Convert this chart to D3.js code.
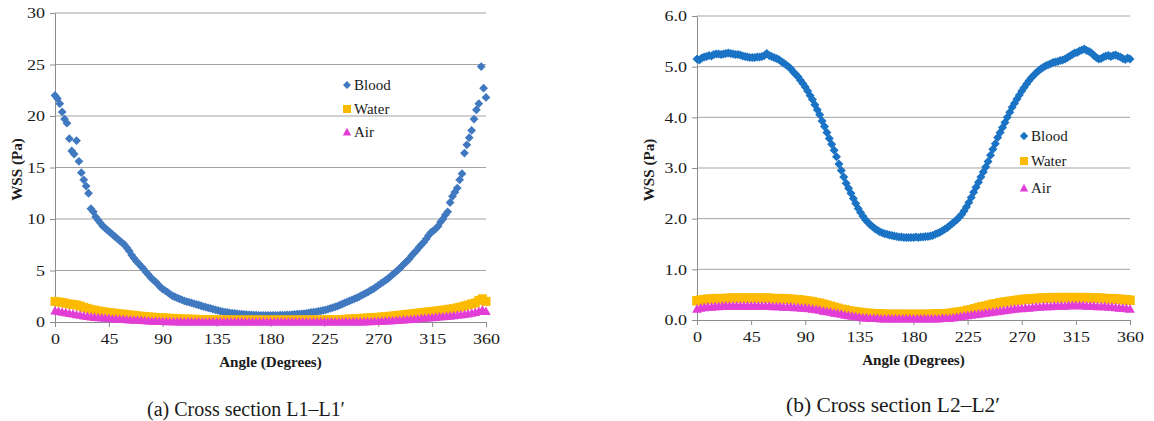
<!DOCTYPE html>
<html><head><meta charset="utf-8">
<script src="https://cdn.jsdelivr.net/npm/d3@7"></script>
<style>
body{margin:0;background:#fff}
svg{display:block}
svg text{font-family:"Liberation Serif","Times New Roman",serif !important;fill:#1a1a1a}
</style>
</head><body>
<svg id="c" width="1154" height="421"></svg>
<script>
// ---------- DATA ----------
// angle grid of the Water / Air series (every 3 degrees)
const angles3 = [0,3,6,9,12,15,18,21,24,27,30,33,36,39,42,45,48,51,54,57,60,63,66,69,72,75,78,81,84,87,90,93,96,99,102,105,108,111,114,117,120,123,126,129,132,135,138,141,144,147,150,153,156,159,162,165,168,171,174,177,180,183,186,189,192,195,198,201,204,207,210,213,216,219,222,225,228,231,234,237,240,243,246,249,252,255,258,261,264,267,270,273,276,279,282,285,288,291,294,297,300,303,306,309,312,315,318,321,324,327,330,333,336,339,342,345,348,351,354,357,360];
// angle grid of the Blood series (every 2 degrees)
const angles2 = [
  0,2,4,6,8,10,12,14,16,18,
  20,22,24,26,28,30,32,34,36,38,
  40,42,44,46,48,50,52,54,56,58,
  60,62,64,66,68,70,72,74,76,78,
  80,82,84,86,88,90,92,94,96,98,
  100,102,104,106,108,110,112,114,116,118,
  120,122,124,126,128,130,132,134,136,138,
  140,142,144,146,148,150,152,154,156,158,
  160,162,164,166,168,170,172,174,176,178,
  180,182,184,186,188,190,192,194,196,198,
  200,202,204,206,208,210,212,214,216,218,
  220,222,224,226,228,230,232,234,236,238,
  240,242,244,246,248,250,252,254,256,258,
  260,262,264,266,268,270,272,274,276,278,
  280,282,284,286,288,290,292,294,296,298,
  300,302,304,306,308,310,312,314,316,318,
  320,322,324,326,328,330,332,334,336,338,
  340,342,344,346,348,350,352,354,356,358,
  360];

const seriesNames = ["Blood","Water","Air"];
const xTicks = [0,45,90,135,180,225,270,315,360];
const yTicksA = [0,5,10,15,20,25,30];
const yTicksB = [0,1,2,3,4,5,6];
const captions = ["(a) Cross section L1\u2013L1\u2032","(b) Cross section L2\u2013L2\u2032"];
const xTitle = "Angle (Degrees)";
const yTitle = "WSS (Pa)";

// Chart (a) L1-L1'
const bloodA = [
  22.0,21.7,21.2,20.4,19.7,19.3,17.8,16.6,16.3,17.6,
  15.6,14.5,13.8,13.2,12.5,11.0,10.7,10.2,9.9,9.6,
  9.3,9.1,8.9,8.7,8.5,8.3,8.1,7.9,7.7,7.5,
  7.2,6.9,6.5,6.2,5.9,5.65,5.4,5.15,4.85,4.6,
  4.3,4.1,3.9,3.65,3.4,3.2,3.05,2.9,2.7,2.55,
  2.45,2.35,2.25,2.15,2.05,1.98,1.92,1.85,1.78,1.72,
  1.65,1.58,1.5,1.45,1.38,1.32,1.25,1.18,1.12,1.05,
  1.0,0.96,0.92,0.88,0.85,0.83,0.8,0.77,0.75,0.73,
  0.71,0.7,0.68,0.67,0.66,0.65,0.65,0.64,0.64,0.64,
  0.64,0.64,0.64,0.65,0.66,0.66,0.67,0.68,0.69,0.71,
  0.73,0.75,0.77,0.79,0.82,0.84,0.88,0.92,0.95,0.99,
  1.04,1.08,1.13,1.18,1.25,1.32,1.39,1.47,1.55,1.65,
  1.75,1.85,1.95,2.05,2.15,2.25,2.35,2.45,2.58,2.7,
  2.82,2.95,3.1,3.22,3.38,3.55,3.72,3.88,4.05,4.2,
  4.4,4.6,4.8,5.0,5.2,5.45,5.7,5.9,6.15,6.45,
  6.7,6.95,7.25,7.5,7.75,8.05,8.4,8.7,8.85,9.05,
  9.3,9.7,10.0,10.4,10.7,11.6,12.2,12.6,13.0,13.8,
  14.4,16.4,17.2,17.9,18.6,19.7,20.6,21.2,24.8,22.7,
  21.8];
const waterA = [2.0,1.95,1.9,1.82,1.75,1.7,1.65,1.55,1.42,1.32,1.22,1.15,1.08,1.02,0.96,0.92,0.88,0.84,0.8,0.76,0.72,0.68,0.64,0.6,0.56,0.53,0.5,0.47,0.44,0.42,0.4,0.38,0.36,0.34,0.32,0.3,0.29,0.28,0.27,0.26,0.25,0.24,0.23,0.22,0.22,0.21,0.21,0.2,0.2,0.2,0.19,0.2,0.19,0.19,0.2,0.19,0.19,0.2,0.19,0.19,0.19,0.2,0.19,0.19,0.2,0.19,0.19,0.2,0.19,0.2,0.2,0.19,0.2,0.2,0.2,0.2,0.21,0.22,0.23,0.24,0.25,0.27,0.29,0.31,0.33,0.35,0.37,0.39,0.41,0.43,0.46,0.49,0.52,0.55,0.58,0.62,0.66,0.7,0.74,0.78,0.82,0.86,0.9,0.94,0.98,1.02,1.06,1.1,1.15,1.2,1.25,1.3,1.38,1.45,1.55,1.65,1.75,1.85,2.1,2.25,2.0];
const airA = [1.1,1.05,0.98,0.92,0.86,0.8,0.74,0.68,0.62,0.56,0.52,0.48,0.45,0.42,0.39,0.36,0.33,0.31,0.29,0.27,0.25,0.23,0.21,0.19,0.17,0.15,0.13,0.11,0.1,0.08,0.07,0.06,0.05,0.05,0.04,0.04,0.03,0.04,0.03,0.03,0.04,0.03,0.03,0.02,0.03,0.03,0.02,0.03,0.02,0.02,0.03,0.02,0.02,0.03,0.02,0.02,0.02,0.03,0.02,0.02,0.02,0.02,0.03,0.02,0.02,0.03,0.02,0.02,0.03,0.02,0.02,0.03,0.02,0.03,0.03,0.02,0.03,0.03,0.03,0.03,0.03,0.04,0.03,0.04,0.04,0.04,0.04,0.05,0.06,0.07,0.08,0.1,0.12,0.14,0.16,0.18,0.2,0.22,0.25,0.28,0.3,0.33,0.36,0.39,0.42,0.45,0.48,0.51,0.54,0.57,0.6,0.64,0.68,0.72,0.76,0.82,0.88,0.95,1.05,1.2,1.05];

// Chart (b) L2-L2'
const bloodB = [
  5.15,5.13,5.17,5.19,5.2,5.22,5.21,5.24,5.25,5.25,
  5.24,5.25,5.26,5.27,5.26,5.25,5.24,5.24,5.23,5.21,
  5.2,5.19,5.18,5.18,5.18,5.19,5.19,5.2,5.22,5.26,
  5.22,5.2,5.18,5.16,5.14,5.1,5.07,5.04,5.0,4.96,
  4.9,4.85,4.8,4.73,4.67,4.6,4.52,4.43,4.35,4.25,
  4.15,4.05,3.93,3.82,3.7,3.58,3.47,3.35,3.22,3.08,
  2.95,2.82,2.7,2.6,2.5,2.4,2.3,2.2,2.12,2.05,
  1.98,1.93,1.88,1.84,1.8,1.77,1.74,1.72,1.7,1.69,
  1.68,1.67,1.66,1.65,1.64,1.64,1.63,1.63,1.63,1.63,
  1.63,1.64,1.63,1.64,1.64,1.65,1.65,1.66,1.67,1.69,
  1.71,1.73,1.76,1.79,1.82,1.86,1.9,1.94,1.98,2.03,
  2.08,2.15,2.23,2.32,2.42,2.52,2.62,2.72,2.82,2.92,
  3.02,3.13,3.25,3.37,3.48,3.6,3.7,3.8,3.9,4.0,
  4.1,4.2,4.28,4.36,4.44,4.52,4.59,4.66,4.72,4.78,
  4.83,4.88,4.92,4.96,4.99,5.02,5.04,5.06,5.08,5.09,
  5.1,5.12,5.13,5.15,5.18,5.21,5.24,5.27,5.28,5.31,
  5.33,5.35,5.32,5.3,5.27,5.22,5.18,5.15,5.16,5.19,
  5.21,5.22,5.2,5.22,5.23,5.21,5.19,5.16,5.14,5.17,
  5.15];
const waterB = [0.38,0.39,0.4,0.41,0.41,0.42,0.42,0.42,0.42,0.43,0.43,0.43,0.43,0.43,0.43,0.43,0.43,0.43,0.43,0.43,0.43,0.42,0.42,0.42,0.42,0.41,0.41,0.4,0.4,0.39,0.38,0.37,0.36,0.34,0.33,0.31,0.29,0.27,0.25,0.23,0.21,0.2,0.18,0.17,0.16,0.15,0.14,0.13,0.13,0.12,0.12,0.12,0.11,0.11,0.11,0.11,0.11,0.11,0.11,0.11,0.11,0.11,0.11,0.11,0.11,0.11,0.12,0.12,0.12,0.12,0.13,0.14,0.15,0.16,0.17,0.19,0.2,0.22,0.24,0.26,0.27,0.29,0.31,0.32,0.34,0.35,0.36,0.37,0.38,0.39,0.4,0.41,0.41,0.42,0.42,0.43,0.43,0.43,0.44,0.44,0.44,0.44,0.44,0.44,0.44,0.44,0.44,0.44,0.44,0.43,0.43,0.43,0.43,0.42,0.42,0.42,0.41,0.41,0.4,0.4,0.39];
const airB = [0.22,0.24,0.25,0.26,0.26,0.27,0.27,0.28,0.28,0.28,0.28,0.28,0.28,0.28,0.28,0.28,0.28,0.28,0.28,0.28,0.28,0.27,0.27,0.27,0.26,0.26,0.26,0.25,0.25,0.24,0.24,0.23,0.22,0.21,0.2,0.18,0.17,0.16,0.14,0.13,0.12,0.1,0.09,0.08,0.07,0.06,0.05,0.05,0.04,0.04,0.04,0.03,0.03,0.03,0.03,0.03,0.03,0.03,0.03,0.03,0.03,0.03,0.03,0.03,0.03,0.03,0.03,0.03,0.04,0.04,0.04,0.05,0.06,0.07,0.08,0.09,0.1,0.11,0.12,0.13,0.14,0.15,0.16,0.17,0.18,0.19,0.2,0.21,0.22,0.23,0.23,0.24,0.24,0.25,0.26,0.26,0.27,0.27,0.27,0.28,0.28,0.28,0.28,0.29,0.29,0.29,0.29,0.29,0.28,0.28,0.28,0.27,0.27,0.27,0.26,0.26,0.25,0.24,0.24,0.23,0.22];

// ---------- DRAW ----------
const svg = d3.select("#c");
const FONT = '"Liberation Serif","Times New Roman",serif';

function stretch(sel, f){
  sel.each(function(){
    const w = this.getComputedTextLength();
    d3.select(this).attr("textLength", w*f).attr("lengthAdjust","spacingAndGlyphs");
  });
}
function markerPath(kind, s){
  if(kind==="diamond") return `M0,${-s}L${s},0L0,${s}L${-s},0Z`;
  if(kind==="square") return `M${-s},${-s}H${s}V${s}H${-s}Z`;
  return `M0,${-s*1.05}L${s*1.05},${s*0.85}L${-s*1.05},${s*0.85}Z`;
}

function drawChart(cfg){
  const g = svg.append("g");
  const x = d3.scaleLinear().domain([0,360]).range([cfg.x0,cfg.x1]);
  const y = d3.scaleLinear().domain([0,cfg.ymax]).range([cfg.y0,cfg.y1]);

  g.append("g").selectAll("line").data(cfg.yTicks.filter(d=>d>0)).join("line")
    .attr("x1",cfg.x0).attr("x2",cfg.x1).attr("y1",d=>y(d)).attr("y2",d=>y(d))
    .attr("stroke","#a3a3a3").attr("stroke-width",1);

  const ax = g.append("g").attr("transform",`translate(0,${cfg.y0})`)
    .call(d3.axisBottom(x).tickValues(xTicks).tickSize(5).tickSizeOuter(0).tickPadding(6).tickFormat(d3.format("d")));
  const ay = g.append("g").attr("transform",`translate(${cfg.x0},0)`)
    .call(d3.axisLeft(y).tickValues(cfg.yTicks).tickSize(5).tickSizeOuter(0).tickPadding(5).tickFormat(cfg.fmt));
  [ax,ay].forEach(a=>{
    a.attr("font-family",null);
    a.select(".domain").attr("stroke","#8c8c8c");
    a.selectAll(".tick line").attr("stroke","#8c8c8c");
    a.selectAll("text").style("font-family",FONT).attr("font-size",15).attr("fill","#1a1a1a");
  });
  stretch(ax.selectAll("text"),1.2);
  stretch(ay.selectAll("text"),1.2);

  cfg.series.forEach(s=>{
    g.append("g").selectAll("path").data(s.angles.map((a,i)=>[a,s.values[i]]).filter(d=>d[1]!=null)).join("path")
      .attr("d",markerPath(s.kind,s.size))
      .attr("transform",d=>`translate(${x(d[0])},${y(d[1])})`)
      .attr("fill",s.color);
  });

  const xt = g.append("text").attr("x",(cfg.x0+cfg.x1)/2).attr("y",cfg.y0+45)
    .attr("text-anchor","middle").attr("font-weight","bold").attr("font-size",14).style("font-family",FONT).text(xTitle);
  stretch(xt,1.08);
  const yt = g.append("text").attr("transform",`translate(${cfg.ytx},${(cfg.y0+cfg.y1)/2+2}) rotate(-90)`)
    .attr("text-anchor","middle").attr("font-weight","bold").attr("font-size",14).style("font-family",FONT).text(yTitle);
  stretch(yt,1.08);

  const lg = g.append("g");
  cfg.series.forEach((s,i)=>{
    const ly = cfg.legY[i];
    lg.append("path").attr("d",markerPath(s.kind,s.legSize)).attr("transform",`translate(${cfg.legX},${ly})`).attr("fill",s.color);
    lg.append("text").attr("x",cfg.legX+7).attr("y",ly+5).attr("font-size",15).style("font-family",FONT).text(seriesNames[i]);
  });

  svg.append("text").attr("x",cfg.capX).attr("y",cfg.capY).attr("font-size",20).style("font-family",FONT)
    .attr("textLength",cfg.capW).attr("lengthAdjust","spacingAndGlyphs").attr("fill","#222").text(cfg.caption);
}

drawChart({
  x0:55, x1:486, y0:322, y1:13, ymax:30, yTicks:yTicksA, fmt:d3.format("d"), ytx:22,
  series:[
    {angles:angles2, values:bloodA, kind:"diamond", size:4.4, legSize:4, color:"#4079c0"},
    {angles:angles3, values:waterA, kind:"square", size:4.5, legSize:4, color:"#fdbb00"},
    {angles:angles3, values:airA, kind:"triangle", size:4.5, legSize:4, color:"#e23ed6"}
  ],
  legX:347, legY:[85,109,132], caption:captions[0], capX:147, capY:416, capW:198
});
drawChart({
  x0:697, x1:1130, y0:320, y1:16, ymax:6, yTicks:yTicksB, fmt:d3.format(".1f"), ytx:654,
  series:[
    {angles:angles2, values:bloodB, kind:"diamond", size:4.5, legSize:4.2, color:"#1a73c4"},
    {angles:angles3, values:waterB, kind:"square", size:4.8, legSize:4, color:"#fdbb00"},
    {angles:angles3, values:airB, kind:"triangle", size:4.6, legSize:4, color:"#e23ed6"}
  ],
  legX:1024, legY:[136,161,188], caption:captions[1], capX:786, capY:412, capW:214
});
</script>
</body></html>
